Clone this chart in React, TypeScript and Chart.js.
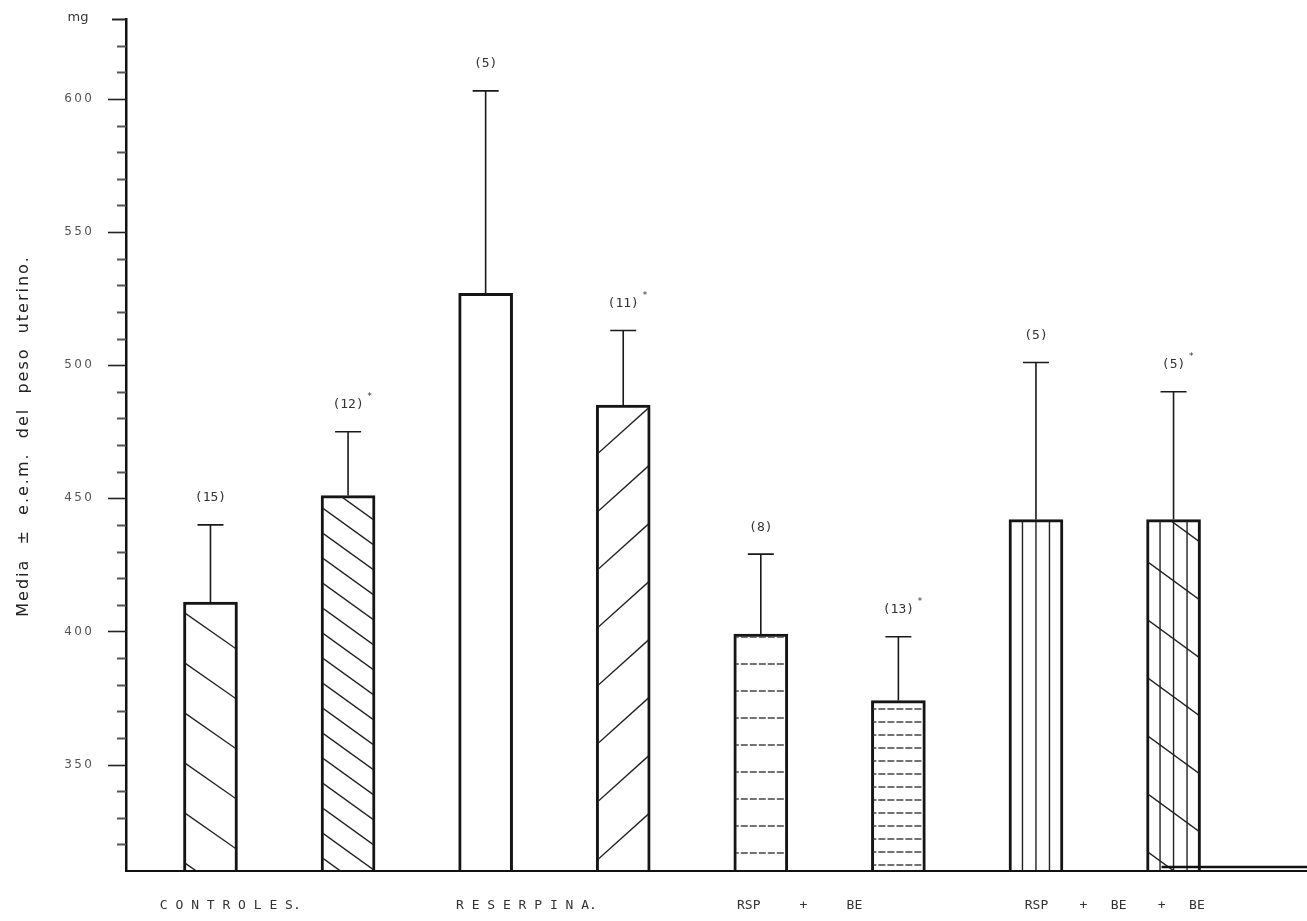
import React, { useEffect, useRef } from 'react';
import { Chart, registerables } from 'chart.js';

Chart.register(...registerables);

// ---- data ----
const barPositions = [0, 1, 2, 3, 4, 5, 6, 7];
const means = [411, 451, 527, 485, 399, 374, 442, 442];
const sems = [29, 24, 76, 28, 30, 24, 59, 48];
const nLabels = ['(15)', '(12)', '(5)', '(11)', '(8)', '(13)', '(5)', '(5)'];
const starred = [false, true, false, true, false, true, false, true];
const hatchTypes = ['back', 'backDense', 'none', 'fwd', 'horiz', 'horizDense', 'vert', 'vertBack'];
const groupLabels = ['C O N T R O L E S.', 'R E S E R P I N A.', 'RSP     +     BE', 'RSP    +   BE    +   BE'];
const groupMembers = [[0, 1], [2, 3], [4, 5], [6, 7]];
const majorTicks = [350, 400, 450, 500, 550, 600];
const yMin = 310;
const yMax = 630;
const yTitle = 'Media  ±  e.e.m.  del  peso  uterino.';
const yUnit = 'mg';

function drawLines(ctx: CanvasRenderingContext2D, L: number, T: number, R: number, B: number, slope: number, spacing: number, phase: number) {
  const w = R - L;
  const h = B - T;
  const extra = Math.ceil(Math.abs(slope) * w / spacing) + 2;
  for (let k = -extra; k <= Math.ceil(h / spacing) + extra; k++) {
    const yL = B - phase - k * spacing;
    ctx.beginPath();
    ctx.moveTo(L - 2, yL - slope * 2);
    ctx.lineTo(R + 2, yL + slope * (w + 2));
    ctx.stroke();
  }
}

function drawHatch(ctx: CanvasRenderingContext2D, type: string, L: number, T: number, R: number, B: number) {
  const w = R - L;
  switch (type) {
    case 'back':
      drawLines(ctx, L, T, R, B, 0.7, 50, 9);
      break;
    case 'backDense':
      drawLines(ctx, L, T, R, B, 0.72, 25, 14);
      break;
    case 'fwd':
      drawLines(ctx, L, T, R, B, -0.9, 58, 10);
      break;
    case 'horiz':
      ctx.setLineDash([7, 2]);
      ctx.strokeStyle = '#444';
      drawLines(ctx, L, T, R, B, 0, 27, 18);
      break;
    case 'horizDense':
      ctx.setLineDash([7, 2]);
      ctx.strokeStyle = '#444';
      drawLines(ctx, L, T, R, B, 0, 13, 6);
      break;
    case 'vert':
    case 'vertBack':
      for (let q = 1; q < 4; q++) {
        const x = L + (w * q) / 4;
        ctx.beginPath();
        ctx.moveTo(x, T);
        ctx.lineTo(x, B);
        ctx.stroke();
      }
      if (type === 'vertBack') drawLines(ctx, L, T, R, B, 0.73, 58, 20);
      break;
    default:
      break;
  }
}

const groupLabelOffsets = [-49, -28, -30, 10];

const decorPlugin = {
  id: 'decor',
  afterDatasetsDraw(chart: any) {
    const ctx: CanvasRenderingContext2D = chart.ctx;
    const meta = chart.getDatasetMeta(0);
    const ys = chart.scales.y;
    const area = chart.chartArea;

    // hatching inside bars
    meta.data.forEach((bar: any, i: number) => {
      const p = bar.getProps(['x', 'y', 'base', 'width'], true);
      const L = p.x - p.width / 2;
      const R = p.x + p.width / 2;
      const B = Math.min(p.base, area.bottom);
      ctx.save();
      ctx.beginPath();
      ctx.rect(L + 2, p.y + 2, p.width - 4, B - p.y - 2);
      ctx.clip();
      ctx.strokeStyle = '#222';
      ctx.lineWidth = 1.4;
      drawHatch(ctx, hatchTypes[i], L, p.y, R, B);
      ctx.restore();
    });

    // baseline
    ctx.save();
    ctx.strokeStyle = '#111';
    ctx.lineWidth = 2;
    ctx.beginPath();
    ctx.moveTo(area.left, area.bottom);
    ctx.lineTo(area.right, area.bottom);
    ctx.stroke();
    const last = meta.data[meta.data.length - 1];
    ctx.lineWidth = 2.5;
    ctx.beginPath();
    ctx.moveTo(last.x - 12, area.bottom - 4);
    ctx.lineTo(area.right, area.bottom - 4);
    ctx.stroke();
    ctx.restore();

    // error bars + n labels
    meta.data.forEach((bar: any, i: number) => {
      const capY = ys.getPixelForValue(means[i] + sems[i]);
      ctx.save();
      ctx.strokeStyle = '#1a1a1a';
      ctx.lineWidth = 1.6;
      ctx.beginPath();
      ctx.moveTo(bar.x, bar.y);
      ctx.lineTo(bar.x, capY);
      ctx.moveTo(bar.x - 13, capY);
      ctx.lineTo(bar.x + 13, capY);
      ctx.stroke();
      ctx.fillStyle = '#333';
      ctx.font = '13px "DejaVu Sans Mono"';
      ctx.textAlign = 'center';
      ctx.textBaseline = 'middle';
      const ly = capY - 27;
      ctx.fillText(nLabels[i], bar.x, ly);
      if (starred[i]) {
        const tw = ctx.measureText(nLabels[i]).width;
        ctx.font = '9px "DejaVu Sans Mono"';
        ctx.fillText('*', bar.x + tw / 2 + 6, ly - 8);
      }
      ctx.restore();
    });

    // y ticks
    ctx.save();
    ys.ticks.forEach((t: any) => {
      const v = t.value;
      if (v === yMin) return;
      const py = Math.round(ys.getPixelForValue(v)) + 0.5;
      const major = majorTicks.includes(v);
      const len = major ? 18 : v === yMax ? 14 : 9;
      ctx.strokeStyle = major || v === yMax ? '#222' : '#555';
      ctx.lineWidth = major ? 1.6 : 2;
      ctx.beginPath();
      ctx.moveTo(area.left - len, py);
      ctx.lineTo(area.left, py);
      ctx.stroke();
    });
    ctx.restore();

    // group labels
    ctx.save();
    ctx.fillStyle = '#333';
    ctx.font = '13px "DejaVu Sans Mono"';
    ctx.textAlign = 'center';
    ctx.textBaseline = 'middle';
    groupLabels.forEach((lab, g) => {
      const [a, b] = groupMembers[g];
      const cx = (meta.data[a].x + meta.data[b].x) / 2 + groupLabelOffsets[g];
      ctx.fillText(lab, cx, area.bottom + 35);
    });
    ctx.restore();

    // unit + y title
    ctx.save();
    ctx.fillStyle = '#333';
    ctx.font = '13px "DejaVu Sans"';
    ctx.textAlign = 'center';
    ctx.textBaseline = 'middle';
    ctx.fillText(yUnit, 78, area.top - 1);
    ctx.translate(24, 436);
    ctx.rotate(-Math.PI / 2);
    ctx.font = '16px "DejaVu Sans"';
    ctx.fillStyle = '#222';
    (ctx as any).letterSpacing = '2px';
    ctx.fillText(yTitle, 0, 0);
    ctx.restore();
  },
};

export default function App() {
  const ref = useRef<HTMLCanvasElement>(null);
  useEffect(() => {
    const canvas = ref.current!;
    const chart = new Chart(canvas, {
      type: 'bar',
      data: {
        datasets: [
          {
            data: barPositions.map((p, i) => ({ x: p, y: means[i] })),
            backgroundColor: '#ffffff',
            borderColor: '#151515',
            borderWidth: 3,
            barThickness: 54,
            base: yMin,
          },
        ],
      },
      options: {
        responsive: false,
        animation: false,
        devicePixelRatio: 1,
        layout: { padding: { left: 0, top: 19, right: 0, bottom: 50 } },
        plugins: { legend: { display: false }, tooltip: { enabled: false } },
        scales: {
          x: { type: 'linear', display: false, offset: false, min: -0.614, max: 7.97 },
          y: {
            min: yMin,
            max: yMax,
            grid: { display: false, drawTicks: false },
            border: { display: true, color: '#111', width: 2.5 },
            ticks: {
              stepSize: 10,
              autoSkip: false,
              padding: 34,
              color: '#555',
              font: { family: 'DejaVu Sans', size: 12 },
              callback: (v: any) => (majorTicks.includes(v) ? String(v).split('').join('\u2009') : ''),
            },
            afterFit: (s: any) => {
              s.width = 126;
              s.paddingTop = 0;
              s.paddingBottom = 0;
            },
          },
        },
      } as any,
      plugins: [decorPlugin],
    });
    return () => chart.destroy();
  }, []);
  return (
    <div style={{ position: 'fixed', left: 0, top: 0, width: 1307, height: 921, background: '#fff' }}>
      <canvas ref={ref} width={1307} height={921} style={{ display: 'block' }} />
    </div>
  );
}
